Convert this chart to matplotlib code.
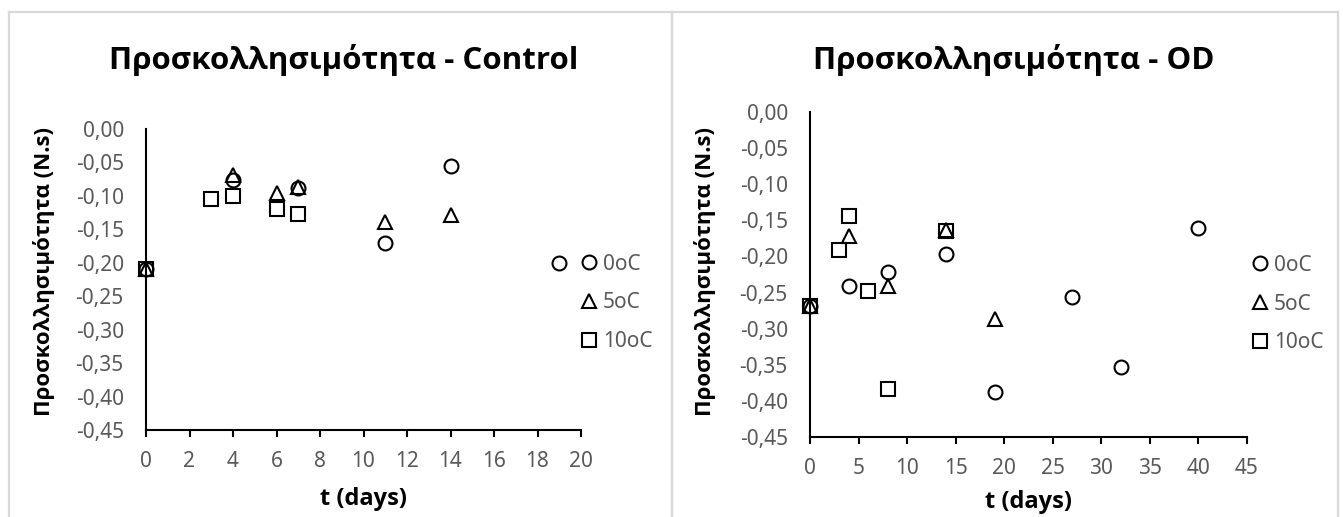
import matplotlib
matplotlib.use("Agg")
import matplotlib.pyplot as plt
from matplotlib.lines import Line2D

plt.rcParams["font.family"] = ["Noto Sans", "DejaVu Sans"]
BOLD_FAMILY = ["Open Sans", "Liberation Sans", "DejaVu Sans"]

# ---- data -------------------------------------------------------------
series_labels = ["0oC", "5oC", "10oC"]
series_markers = ["o", "^", "s"]

# Control samples
ctrl_days_0 = [0, 4, 7, 11, 14, 19]
ctrl_vals_0 = [-0.209, -0.076, -0.088, -0.171, -0.055, -0.200]
ctrl_days_5 = [0, 4, 6, 7, 11, 14]
ctrl_vals_5 = [-0.209, -0.069, -0.095, -0.086, -0.139, -0.128]
ctrl_days_10 = [0, 3, 4, 6, 7]
ctrl_vals_10 = [-0.209, -0.104, -0.100, -0.119, -0.127]

# Osmotically dehydrated (OD) samples
od_days_0 = [0, 4, 8, 14, 19, 27, 32, 40]
od_vals_0 = [-0.269, -0.241, -0.221, -0.197, -0.388, -0.256, -0.353, -0.161]
od_days_5 = [0, 4, 8, 14, 19]
od_vals_5 = [-0.269, -0.171, -0.241, -0.164, -0.286]
od_days_10 = [0, 3, 4, 6, 8, 14]
od_vals_10 = [-0.269, -0.191, -0.144, -0.248, -0.383, -0.165]

ytick_values = [0.00, -0.05, -0.10, -0.15, -0.20, -0.25, -0.30, -0.35, -0.40, -0.45]
ytick_labels = ["0,00", "-0,05", "-0,10", "-0,15", "-0,20",
                "-0,25", "-0,30", "-0,35", "-0,40", "-0,45"]
ctrl_xticks = [0, 2, 4, 6, 8, 10, 12, 14, 16, 18, 20]
od_xticks = [0, 5, 10, 15, 20, 25, 30, 35, 40, 45]

titles = ["Προσκολλησιμότητα - Control", "Προσκολλησιμότητα - OD"]
ylabel = "Προσκολλησιμότητα (N.s)"
xlabel = "t (days)"

# ---- figure -----------------------------------------------------------
W, H = 1343, 517
fig = plt.figure(figsize=(W / 100, H / 100), dpi=100)
fig.patch.set_facecolor("white")

TICK_GREY = "#595959"
BORDER = "#d9d9d9"


def fx(px):
    return px / W


def fy(py):
    return 1 - py / H


# chart-area frames
for x0, x1 in [(9, 672), (672, 1338)]:
    for seg in ([(x0, x0), (12, H + 5)], [(x1, x1), (12, H + 5)], [(x0, x1), (12, 12)]):
        fig.add_artist(Line2D([fx(v) for v in seg[0]], [fy(v) for v in seg[1]],
                              color=BORDER, lw=1.6, transform=fig.transFigure))


def make_panel(rect, series, xticks, xmax, title, title_x, ylab_x,
               xlab_y, legend_x, legend_y):
    ax = fig.add_axes(rect)
    handles = []
    for (days, vals), mk, lab in zip(series, series_markers, series_labels):
        h, = ax.plot(days, vals, linestyle="none", marker=mk, markersize=10,
                     markerfacecolor="none", markeredgecolor="black",
                     markeredgewidth=1.5, clip_on=False, zorder=3, label=lab)
        handles.append(h)
    ax.set_xlim(0, xmax)
    ax.set_ylim(-0.45, 0)
    ax.set_xticks(xticks)
    ax.set_xticklabels([str(t) for t in xticks])
    ax.set_yticks(ytick_values)
    ax.set_yticklabels(ytick_labels)
    for s in ("top", "right"):
        ax.spines[s].set_visible(False)
    for s in ("left", "bottom"):
        ax.spines[s].set_linewidth(1.5)
        ax.spines[s].set_color("black")
    ax.tick_params(axis="x", direction="out", length=5, width=1.5,
                   labelsize=15, labelcolor=TICK_GREY, pad=10)
    ax.tick_params(axis="y", length=0, labelsize=15,
                   labelcolor=TICK_GREY, pad=16)
    ax.patch.set_alpha(0)

    fig.text(fx(title_x), fy(69), title, ha="center", va="baseline",
             fontsize=22.5, fontweight="bold", family=BOLD_FAMILY)
    fig.text(fx(ylab_x), fy(271), ylabel, rotation=90, ha="center",
             va="center", fontsize=16, fontweight="bold", family=BOLD_FAMILY)
    cx = rect[0] + rect[2] / 2
    fig.text(cx, fy(xlab_y), xlabel, ha="center", va="baseline",
             fontsize=17, fontweight="bold", family=BOLD_FAMILY)

    fig.legend(handles=handles, loc="center left",
               bbox_to_anchor=(fx(legend_x), fy(legend_y)),
               frameon=False, fontsize=15, labelcolor=TICK_GREY,
               handlelength=0.7, handletextpad=0.3, labelspacing=0.85,
               borderpad=0, borderaxespad=0)
    return ax


ctrl_series = [(ctrl_days_0, ctrl_vals_0), (ctrl_days_5, ctrl_vals_5),
               (ctrl_days_10, ctrl_vals_10)]
od_series = [(od_days_0, od_vals_0), (od_days_5, od_vals_5),
             (od_days_10, od_vals_10)]

make_panel([fx(146), fy(430), fx(581) - fx(146), fy(129) - fy(430)],
           ctrl_series, ctrl_xticks, 20, titles[0], 344, 44, 505, 582, 303)
make_panel([fx(810), fy(437), fx(1247) - fx(810), fy(112) - fy(437)],
           od_series, od_xticks, 45, titles[1], 1014, 705, 508, 1253, 304)

fig.savefig("out.png", dpi=100, facecolor="white")
